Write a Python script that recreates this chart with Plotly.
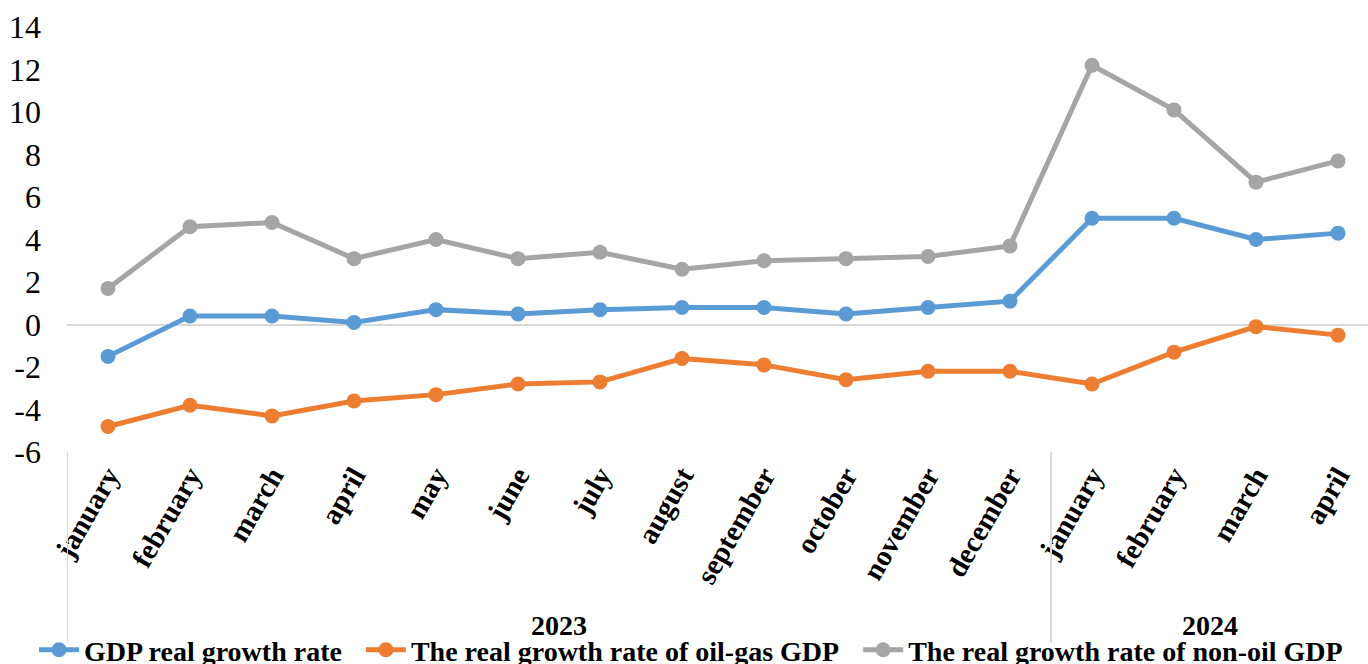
import plotly.graph_objects as go

months = ["january", "february", "march", "april", "may", "june", "july", "august",
          "september", "october", "november", "december",
          "january", "february", "march", "april"]
years = ["2023", "2024"]
year_counts = [12, 4]
y_ticks = [-6, -4, -2, 0, 2, 4, 6, 8, 10, 12, 14]

gdp = [-1.5, 0.4, 0.4, 0.1, 0.7, 0.5, 0.7, 0.8, 0.8, 0.5, 0.8, 1.1, 5.0, 5.0, 4.0, 4.3]
oil_gas = [-4.8, -3.8, -4.3, -3.6, -3.3, -2.8, -2.7, -1.6, -1.9, -2.6, -2.2, -2.2, -2.8, -1.3, -0.1, -0.5]
non_oil = [1.7, 4.6, 4.8, 3.1, 4.0, 3.1, 3.4, 2.6, 3.0, 3.1, 3.2, 3.7, 12.2, 10.1, 6.7, 7.7]

series = [
    ("GDP real growth rate", gdp, "#5B9BD5"),
    ("The real growth rate of oil-gas GDP", oil_gas, "#ED7D31"),
    ("The real growth rate of non-oil GDP", non_oil, "#A5A5A5"),
]

x = list(range(len(months)))
SERIF = "Liberation Serif"
NB = "\u00a0"

fig = go.Figure()
for name, vals, col in series:
    fig.add_trace(go.Scatter(
        x=x, y=vals, name="<b>" + name + "</b>" + NB * 2, mode="lines+markers",
        line=dict(color=col, width=5),
        marker=dict(color=col, size=15),
    ))

W, H = 1368, 664
ml, mt, mb = 67, 27, 212
plot_h = H - mt - mb
plot_w = W - ml
cat_px = 82.0
xmax = -0.5 + plot_w / cat_px

def py(px):
    return (H - mb - px) / plot_h

shapes = []
annotations = []
start = 0
bounds = [-0.5]
for yr, cnt in zip(years, year_counts):
    end = start + cnt
    bounds.append(end - 0.5)
    center = (start - 0.5 + min(end - 0.5, xmax)) / 2
    annotations.append(dict(
        x=center, xref="x", y=py(625), yref="paper", text="<b>" + yr + "</b>",
        showarrow=False, font=dict(family=SERIF, size=28, color="black"),
        xanchor="center", yanchor="middle"))
    start = end
for b in bounds[:-1]:
    shapes.append(dict(type="line", xref="x", yref="paper", x0=b, x1=b,
                       y0=0, y1=py(643), line=dict(color="#D9D9D9", width=2)))

fig.update_layout(
    width=W, height=H,
    font=dict(family=SERIF, color="black"),
    margin=dict(l=ml, r=0, t=mt, b=mb, pad=0, autoexpand=False),
    paper_bgcolor="white", plot_bgcolor="white",
    showlegend=True,
    legend=dict(orientation="h", x=(34 - ml) / plot_w, xanchor="left",
                y=py(650), yanchor="middle",
                font=dict(family=SERIF, size=28, color="black"),
                itemwidth=40, tracegroupgap=0, bgcolor="rgba(0,0,0,0)"),
    shapes=shapes, annotations=annotations,
)
fig.update_xaxes(
    range=[-0.5, xmax], tickmode="array", tickvals=x,
    ticktext=["<b>" + m + "</b>" for m in months],
    tickangle=-60, showgrid=False, zeroline=False, showline=False, ticks="",
    automargin=False,
    tickfont=dict(family=SERIF, size=29, color="black"),
)
fig.update_yaxes(
    range=[-6, 14], tickmode="array", tickvals=y_ticks,
    ticktext=[str(v) for v in y_ticks],
    showgrid=False, zeroline=True, zerolinecolor="#D9D9D9",
    zerolinewidth=2, showline=False, ticks="", automargin=False,
    ticklabelstandoff=25,
    tickfont=dict(family=SERIF, size=32, color="black"),
)

fig.write_html("out.html", config={"displayModeBar": False},
               post_script="document.body.style.margin='0px';")
